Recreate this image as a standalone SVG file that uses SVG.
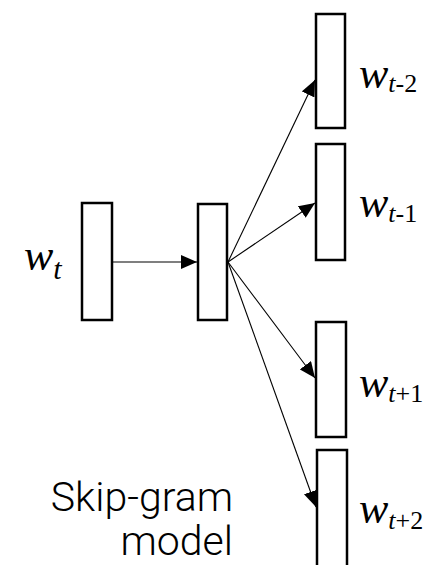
<svg xmlns="http://www.w3.org/2000/svg" width="431" height="565" viewBox="0 0 431 565">
<defs>
<marker id="ah" markerUnits="userSpaceOnUse" markerWidth="17" markerHeight="14" refX="16" refY="7" orient="auto">
<path d="M0,0 L16,7 L0,14 z" fill="#000"/>
</marker>
<style>
.box{fill:#fff;stroke:#000;stroke-width:2.5}
.edge{stroke:#000;stroke-width:1.1;fill:none;marker-end:url(#ah)}
.lbl{font-family:'Liberation Serif','DejaVu Serif',serif;fill:#000}
.cap{font-family:Roboto,'Liberation Sans',sans-serif;font-weight:300;font-size:41px;fill:#000;text-anchor:end}
</style>
</defs>
<g id="connectors">
<line class="edge" x1="113" y1="262" x2="197" y2="262"/>
<line class="edge" x1="228" y1="262" x2="315" y2="80"/>
<line class="edge" x1="228" y1="262" x2="315" y2="203"/>
<line class="edge" x1="228" y1="262" x2="315" y2="378"/>
<line class="edge" x1="228" y1="262" x2="316" y2="507"/>
</g>
<g id="input">
<rect class="box" x="82" y="203" width="30" height="117"/>
<text class="lbl" x="24" y="270" font-size="44" font-style="italic">w<tspan font-size="30" dy="9">t</tspan></text>
</g>
<g id="hidden">
<rect class="box" x="198" y="204" width="29" height="116"/>
</g>
<g id="out1">
<rect class="box" x="316" y="14" width="29" height="114"/>
<text class="lbl" x="359" y="88" font-size="44" font-style="italic">w<tspan font-size="26" dy="4">t</tspan><tspan font-size="26" font-style="normal">-2</tspan></text>
</g>
<g id="out2">
<rect class="box" x="316" y="144" width="29" height="116"/>
<text class="lbl" x="359" y="217" font-size="44" font-style="italic">w<tspan font-size="26" dy="5">t</tspan><tspan font-size="26" font-style="normal">-1</tspan></text>
</g>
<g id="out3">
<rect class="box" x="316" y="322" width="30" height="115"/>
<text class="lbl" x="359" y="397" font-size="44" font-style="italic">w<tspan font-size="26" dy="5">t</tspan><tspan font-size="26" font-style="normal">+1</tspan></text>
</g>
<g id="out4">
<rect class="box" x="317" y="450" width="30" height="120"/>
<text class="lbl" x="359" y="523" font-size="44" font-style="italic">w<tspan font-size="26" dy="6">t</tspan><tspan font-size="26" font-style="normal">+2</tspan></text>
</g>
<g id="caption">
<text class="cap" x="233" y="511">Skip-gram</text>
<text class="cap" x="233" y="555">model</text>
</g>
</svg>
